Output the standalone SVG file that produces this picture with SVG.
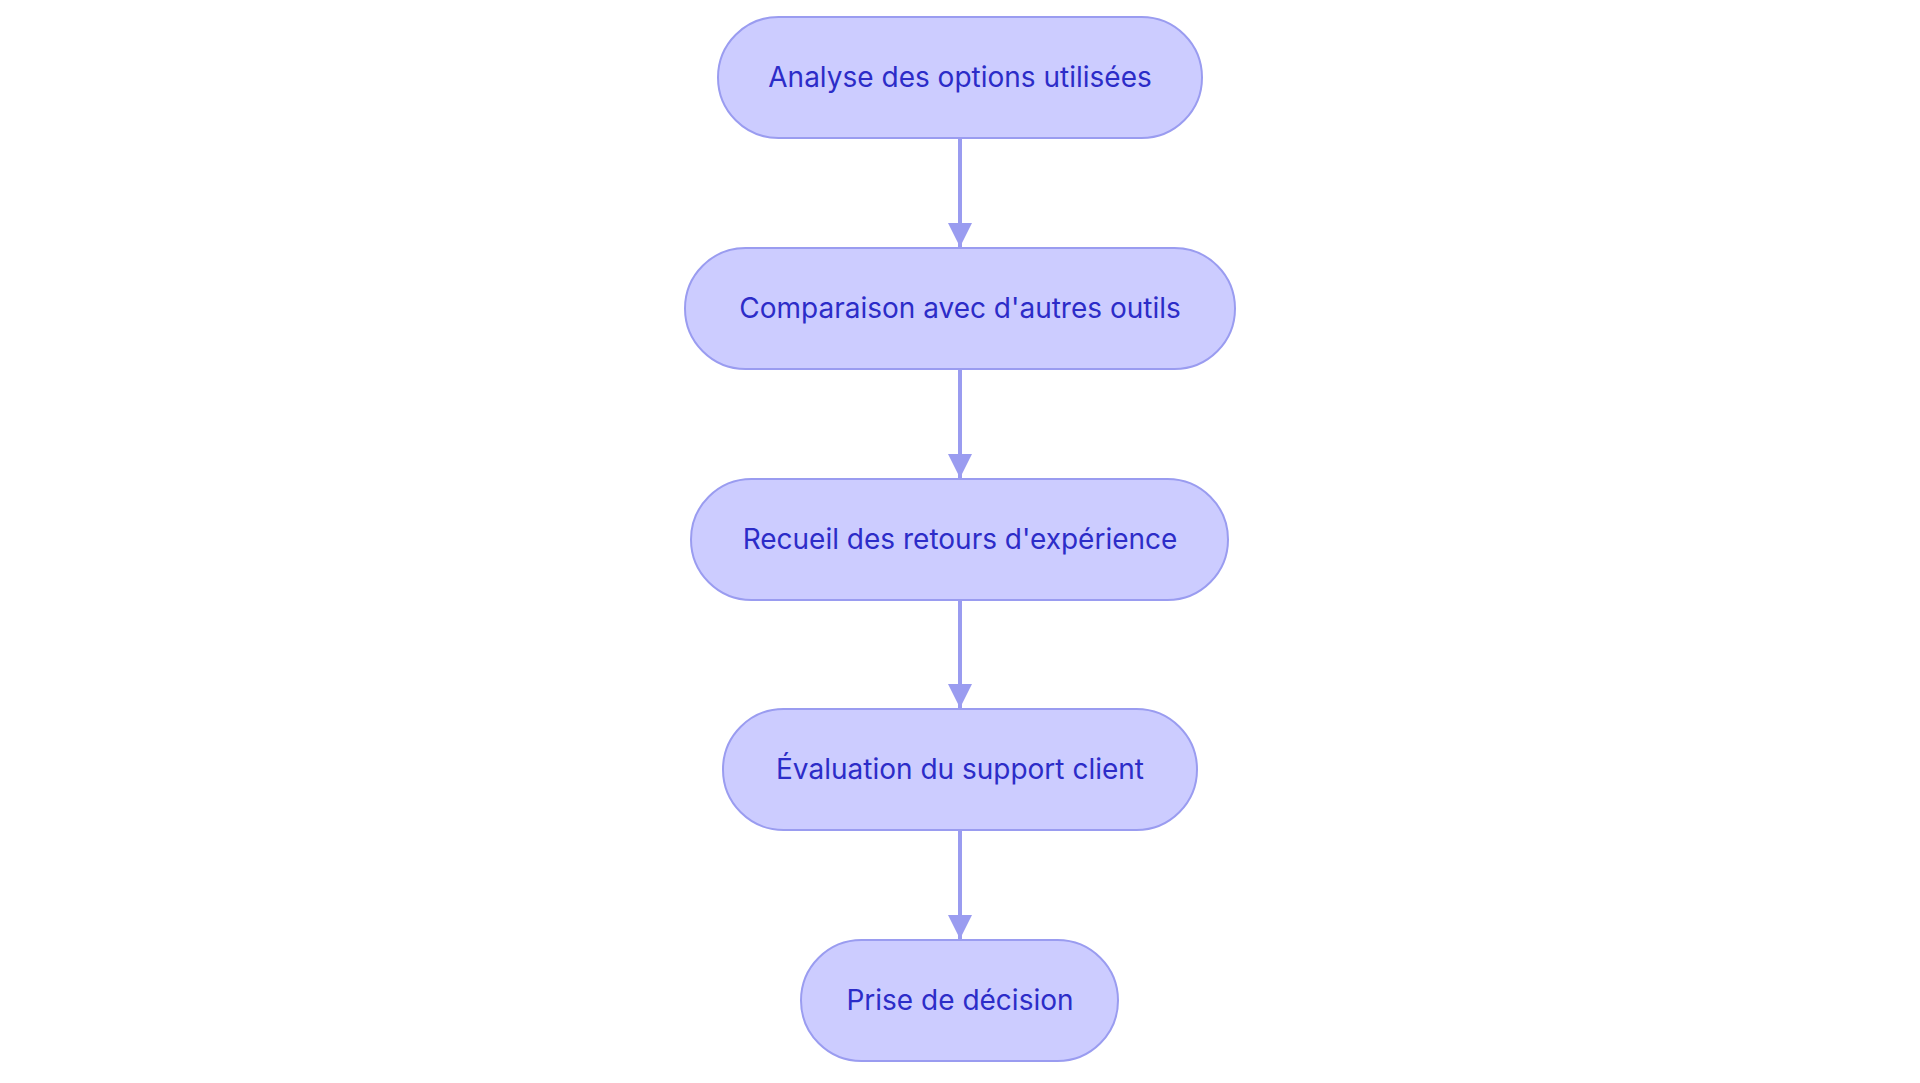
<svg xmlns="http://www.w3.org/2000/svg" width="1920" height="1083" viewBox="0 0 1920 1083">
<style>
.n rect{fill:#ccccff;stroke:#9a9cf0;stroke-width:2}
.n text{font-family:Inter,"Liberation Sans",sans-serif;font-size:28px;fill:#2c2cc8;text-anchor:middle;dominant-baseline:central}
.e{stroke:#9a9cf0;stroke-width:4;fill:none;marker-end:url(#a)}
</style>
<defs><marker id="a" markerUnits="userSpaceOnUse" markerWidth="26" markerHeight="26" refX="24" refY="12" orient="auto"><path d="M0,0 L24,12 L0,24 z" fill="#9a9cf0"/></marker></defs>
<rect width="1920" height="1083" fill="#fff"/>
<g id="edges">
<path class="e" d="M960,139 V247"/>
<path class="e" d="M960,370 V478"/>
<path class="e" d="M960,600 V708"/>
<path class="e" d="M960,831 V939"/>
</g>
<g id="n1" class="n"><rect x="718" y="17" width="484" height="121" rx="60.5"/><text x="960" y="77">Analyse des options utilisées</text></g>
<g id="n2" class="n"><rect x="685" y="248" width="550" height="121" rx="60.5"/><text x="960" y="308">Comparaison avec d'autres outils</text></g>
<g id="n3" class="n"><rect x="691" y="479" width="537" height="121" rx="60.5"/><text x="960" y="539">Recueil des retours d'expérience</text></g>
<g id="n4" class="n"><rect x="723" y="709" width="474" height="121" rx="60.5"/><text x="960" y="769">Évaluation du support client</text></g>
<g id="n5" class="n"><rect x="801" y="940" width="317" height="121" rx="60.5"/><text x="960" y="1000">Prise de décision</text></g>
</svg>
